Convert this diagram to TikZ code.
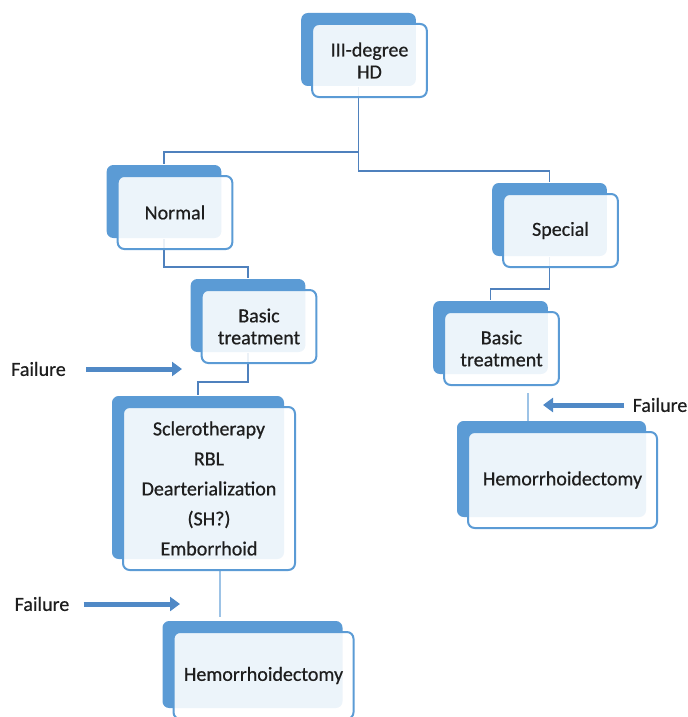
\documentclass[tikz,border=0pt]{standalone}
\usepackage{fontspec}
\setmainfont{Carlito}[FakeBold=0.6]
\usetikzlibrary{arrows.meta,shadows,backgrounds}
\definecolor{boxblue}{HTML}{5B9BD5}
\definecolor{linkblue}{HTML}{4F81BD}
\definecolor{paleblue}{HTML}{9DC3E6}
\definecolor{arrowblue}{HTML}{5089C6}
\definecolor{inktext}{HTML}{1E1E1E}
\newcommand{\bk}{8.25pt}

\begin{document}
\begin{tikzpicture}[x=0.75pt, y=-0.75pt,
        stage/.style={draw=boxblue, line width=1.5pt, rounded corners=5pt, fill=white, fill opacity=0.89, text opacity=1,
            text=inktext, align=center, inner sep=0pt, minimum width=86pt, minimum height=54.75pt,
            font=\fontsize{15}{16.5}\selectfont,
            copy shadow={shadow xshift=-\bk, shadow yshift=\bk, fill=boxblue, draw=none, fill opacity=1}},
        link/.style={draw=linkblue, line width=1.3pt},
        thinlink/.style={draw=paleblue, line width=0.8pt},
        failtext/.style={text=inktext, inner sep=3pt, font=\fontsize{15}{16.5}\selectfont},
        failarrow/.style={draw=arrowblue, line width=3.75pt, -{Triangle[length=7.5pt, width=10.5pt]}}]
    \useasboundingbox (0,0) rectangle (688,717);
    \node[stage] (hd) at (369.5,60.5) {III-degree\\HD};
    \node[stage] (normal) at (175,212.5) {Normal};
    \node[stage] (special) at (560.5,230.5) {Special};
    \node[stage] (basicL) at (259,326.5) {Basic\\treatment};
    \node[stage] (basicR) at (501.5,348.5) {Basic\\treatment};
    \node[stage, minimum width=129pt, minimum height=122.25pt, font=\fontsize{15}{22.5}\selectfont] (sclero) at (209,488.5)
        {Sclerotherapy\\RBL\\Dearterialization\\(SH?)\\Emborrhoid};
    \node[stage, minimum width=135pt, minimum height=65.25pt] (hemoL) at (263.5,675.5) {Hemorrhoidectomy};
    \node[stage, minimum width=141.75pt, minimum height=72pt] (hemoR) at (562.5,480) {Hemorrhoidectomy};

    \coordinate (hubA) at (358.5,152);
    \coordinate (hubB) at (358.5,171);
    \coordinate (elbowA) at (200,267);
    \coordinate (elbowB) at (220,382);
    \coordinate (elbowC) at (520,289);
    \coordinate (dropL) at (220,617);
    \coordinate (dropRtop) at (528,393);
    \coordinate (dropR) at (528,422);
    \begin{scope}[on background layer]
        \draw[link] ([xshift=-\bk,yshift=\bk]hd.south) -- (hubB) -| ([xshift=-\bk,yshift=\bk]special.north);
        \draw[link] (hubA) -| ([xshift=-\bk,yshift=\bk]normal.north);
        \draw[link] ([xshift=-\bk,yshift=\bk]normal.south) |- (elbowA) -| ([xshift=-\bk,yshift=\bk]basicL.north);
        \draw[link] ([xshift=-\bk,yshift=\bk]basicL.south) |- (elbowB) -| ([xshift=-\bk,yshift=\bk]sclero.north);
        \draw[link] ([xshift=-\bk,yshift=\bk]special.south) |- (elbowC) -| ([xshift=-\bk,yshift=\bk]basicR.north);
        \draw[thinlink] (sclero.south -| dropL) -- (dropL);
        \draw[thinlink] (dropRtop) -- (dropR);
    \end{scope}

    \node[failtext] (fail1) at (38.5,369) {Failure};
    \node[failtext] (fail2) at (42,604) {Failure};
    \node[failtext] (fail3) at (660,405) {Failure};
    \coordinate (tip1) at (182,369);
    \coordinate (tip2) at (180,604);
    \coordinate (tip3) at (543,405);
    \draw[failarrow] ([xshift=12pt]fail1.east) -- (tip1);
    \draw[failarrow] ([xshift=7.5pt]fail2.east) -- (tip2);
    \draw[failarrow] ([xshift=-3pt]fail3.west) -- (tip3);
\end{tikzpicture}
\end{document}
